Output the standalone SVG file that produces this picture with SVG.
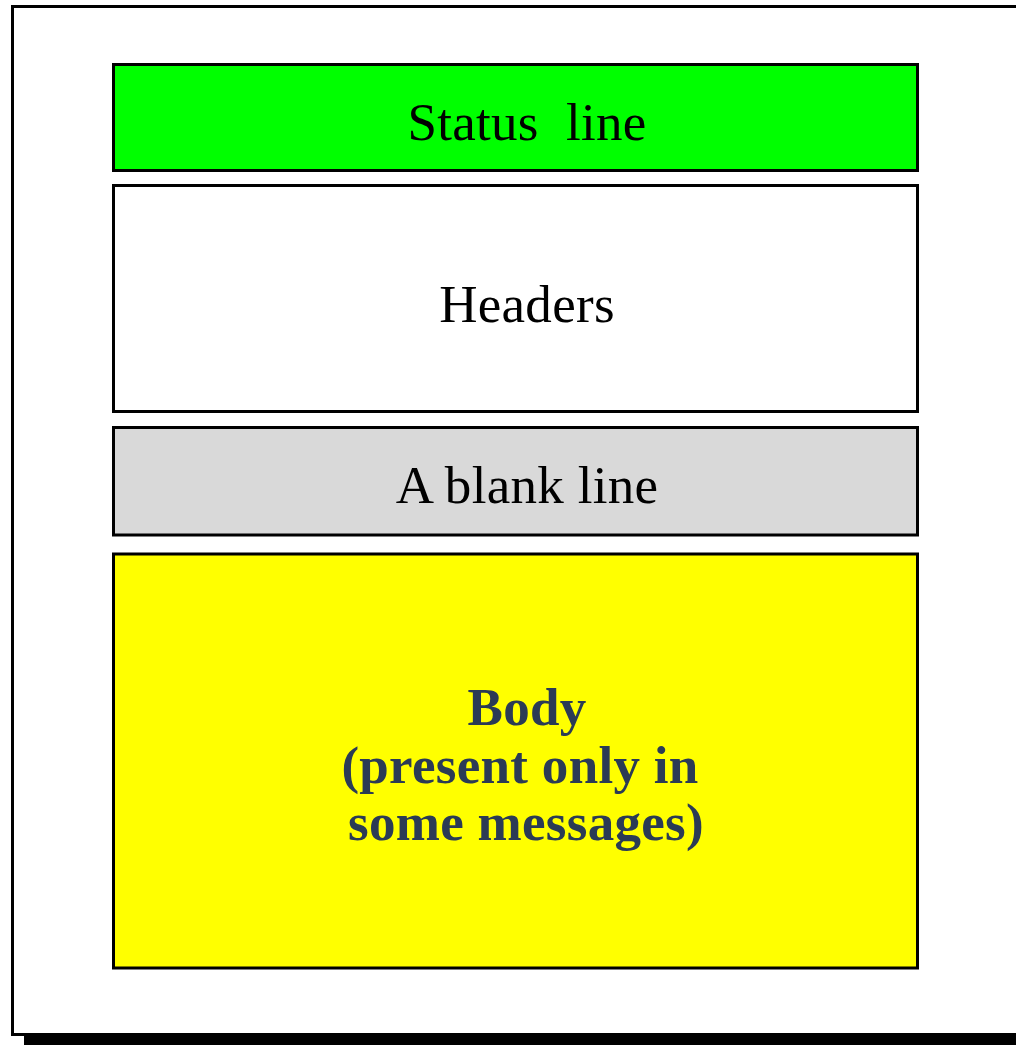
<svg xmlns="http://www.w3.org/2000/svg" width="1016" height="1045" viewBox="0 0 1016 1045">
<style>
.box{stroke:#000;stroke-width:3}
.t{font-family:"Liberation Serif","Times New Roman",serif;font-size:53px;fill:#000;text-anchor:middle;letter-spacing:0.3px}
.b{font-family:"Liberation Serif","Times New Roman",serif;font-size:53px;font-weight:bold;fill:#2b3b55;text-anchor:middle;letter-spacing:0.3px}
</style>
<rect width="1016" height="1045" fill="#fff"/>
<g id="frame">
<rect x="24" y="18" width="1010" height="1040" fill="#000"/>
<rect x="12.5" y="6.5" width="1010" height="1028" fill="#fff" stroke="#000" stroke-width="3"/>
</g>
<g id="status">
<rect class="box" x="113.5" y="64.5" width="804" height="106" fill="#00ff00"/>
<text class="t" x="527" y="140" xml:space="preserve">Status  line</text>
</g>
<g id="headers">
<rect class="box" x="113.5" y="185.5" width="804" height="226" fill="#fff"/>
<text class="t" x="527" y="322">Headers</text>
</g>
<g id="blank">
<rect class="box" x="113.5" y="427.5" width="804" height="107.5" fill="#d9d9d9"/>
<text class="t" x="527" y="503">A blank line</text>
</g>
<g id="body">
<rect class="box" x="113.5" y="554" width="804" height="414" fill="#ffff00"/>
<text class="b" x="527" y="725">Body</text>
<text class="b" x="520" y="783">(present only in</text>
<text class="b" x="526" y="840">some messages)</text>
</g>
<g id="connectors"/>
</svg>
